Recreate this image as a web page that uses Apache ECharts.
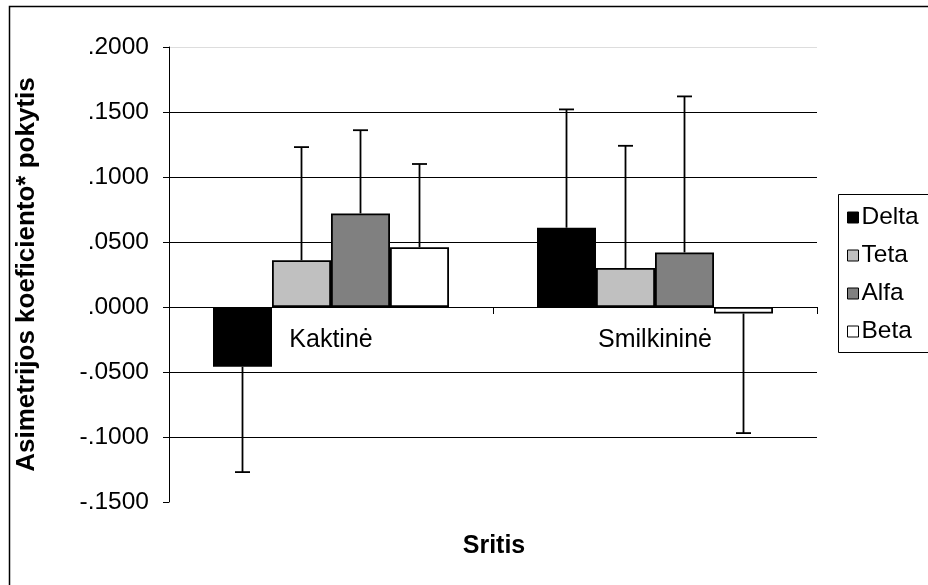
<!DOCTYPE html>
<html>
<head>
<meta charset="utf-8">
<script src="https://cdn.jsdelivr.net/npm/echarts@6/dist/echarts.min.js"></script>
<style>html,body{margin:0;padding:0;background:#fff}#c{width:928px;height:585px}</style>
</head>
<body>
<div id="c"></div>
<script>
const categories = ['Kaktinė', 'Smilkininė'];
const seriesNames = ['Delta', 'Teta', 'Alfa', 'Beta'];
const delta = [-0.046, 0.061];
const teta = [0.036, 0.030];
const alfa = [0.072, 0.042];
const beta = [0.046, -0.005];
const deltaErrEnd = [-0.127, 0.152];
const tetaErrEnd = [0.123, 0.124];
const alfaErrEnd = [0.136, 0.162];
const betaErrEnd = [0.110, -0.097];
const yTicks = [-0.15, -0.1, -0.05, 0, 0.05, 0.1, 0.15, 0.2];

const values = [delta, teta, alfa, beta];
const errEnds = [deltaErrEnd, tetaErrEnd, alfaErrEnd, betaErrEnd];
const colors = ['#000000', '#c0c0c0', '#808080', '#ffffff'];
const BAR_W = 59;
const FONT = '"Liberation Sans", Arial, sans-serif';
const FS = 25;

const chart = echarts.init(document.getElementById('c'), null, {renderer: 'canvas'});

const barSeries = seriesNames.map((name, i) => ({
  name: name,
  type: 'bar',
  data: values[i],
  barWidth: BAR_W,
  barGap: '0%',
  itemStyle: {color: colors[i], borderColor: '#000', borderWidth: 1.8},
  emphasis: {disabled: true},
  z: 2
}));

const errSeries = seriesNames.map((name, i) => ({
  type: 'custom',
  name: name + '_err',
  data: categories.map((c, k) => [k, values[i][k], errEnds[i][k]]),
  z: 3,
  silent: true,
  renderItem: function (params, api) {
    const k = api.value(0);
    const p0 = api.coord([k, api.value(1)]);
    const p1 = api.coord([k, api.value(2)]);
    const x = p0[0] + (i - 1.5) * BAR_W;
    const cap = 7.5;
    return {
      type: 'group',
      children: [
        {type: 'line', shape: {x1: x, y1: p0[1], x2: x, y2: p1[1]}, style: {stroke: '#000', lineWidth: 1.8}},
        {type: 'line', shape: {x1: x - cap, y1: p1[1], x2: x + cap, y2: p1[1]}, style: {stroke: '#000', lineWidth: 1.8}}
      ]
    };
  }
}));

const option = {
  animation: false,
  backgroundColor: '#fff',
  grid: {left: 169, right: 111, top: 47, bottom: 83, containLabel: false},
  legend: {
    data: seriesNames,
    orient: 'vertical',
    left: 847,
    top: 205,
    padding: 0,
    icon: 'rect',
    itemWidth: 11,
    itemHeight: 11,
    itemGap: 13,
    textStyle: {fontFamily: FONT, fontSize: 24.5, lineHeight: 25, color: '#000', padding: [0, 0, 0, -2]},
    itemStyle: {borderColor: '#000', borderWidth: 1}
  },
  xAxis: {
    type: 'category',
    data: categories,
    offset: 0,
    axisLine: {onZero: false, lineStyle: {color: '#000', width: 1}},
    axisTick: {show: true, alignWithLabel: false, length: 7, lineStyle: {color: '#000'}},
    axisLabel: {margin: 21, fontFamily: FONT, fontSize: FS, color: '#000'},
    splitLine: {show: false}
  },
  yAxis: {
    type: 'value',
    min: yTicks[0],
    max: yTicks[yTicks.length - 1],
    interval: 0.05,
    axisLine: {show: true, lineStyle: {color: '#000', width: 1}},
    axisTick: {show: true, length: 6, lineStyle: {color: '#000'}},
    axisLabel: {
      margin: 20,
      fontFamily: FONT,
      fontSize: 24.5,
      color: '#000',
      formatter: function (v) {
        const a = Math.abs(v).toFixed(4).slice(1);
        return (v < -1e-9 ? '-' : '') + a;
      }
    },
    splitLine: {show: true, lineStyle: {color: ['rgba(0,0,0,0)', '#000', '#000', '#000', '#000', '#000', '#000', '#dddddd'], width: 1}},
    name: 'Asimetrijos koeficiento* pokytis',
    nameLocation: 'middle',
    nameGap: 129,
    nameTextStyle: {fontFamily: FONT, fontSize: 26, fontWeight: 'bold', color: '#000'}
  },
  graphic: [
    {type: 'rect', shape: {x: 9.5, y: 6.5, width: 1000, height: 1000}, style: {fill: 'none', stroke: '#000', lineWidth: 1.5}, silent: true, z: 0},
    {type: 'rect', shape: {x: 838.5, y: 194.5, width: 200, height: 158}, style: {fill: 'none', stroke: '#000', lineWidth: 1}, silent: true, z: 0},
    {type: 'text', x: 494, y: 546, style: {text: 'Sritis', fontFamily: FONT, fontSize: FS, fontWeight: 'bold', fill: '#000', textAlign: 'center', textVerticalAlign: 'middle'}, silent: true}
  ],
  series: barSeries.concat(errSeries)
};
chart.setOption(option);
// Place the category axis (line, ticks, labels) on the zero line, as in the reference.
const zeroY = chart.convertToPixel({yAxisIndex: 0}, 0);
const minY = chart.convertToPixel({yAxisIndex: 0}, yTicks[0]);
chart.setOption({xAxis: {offset: -(minY - zeroY)}});
</script>
</body>
</html>
